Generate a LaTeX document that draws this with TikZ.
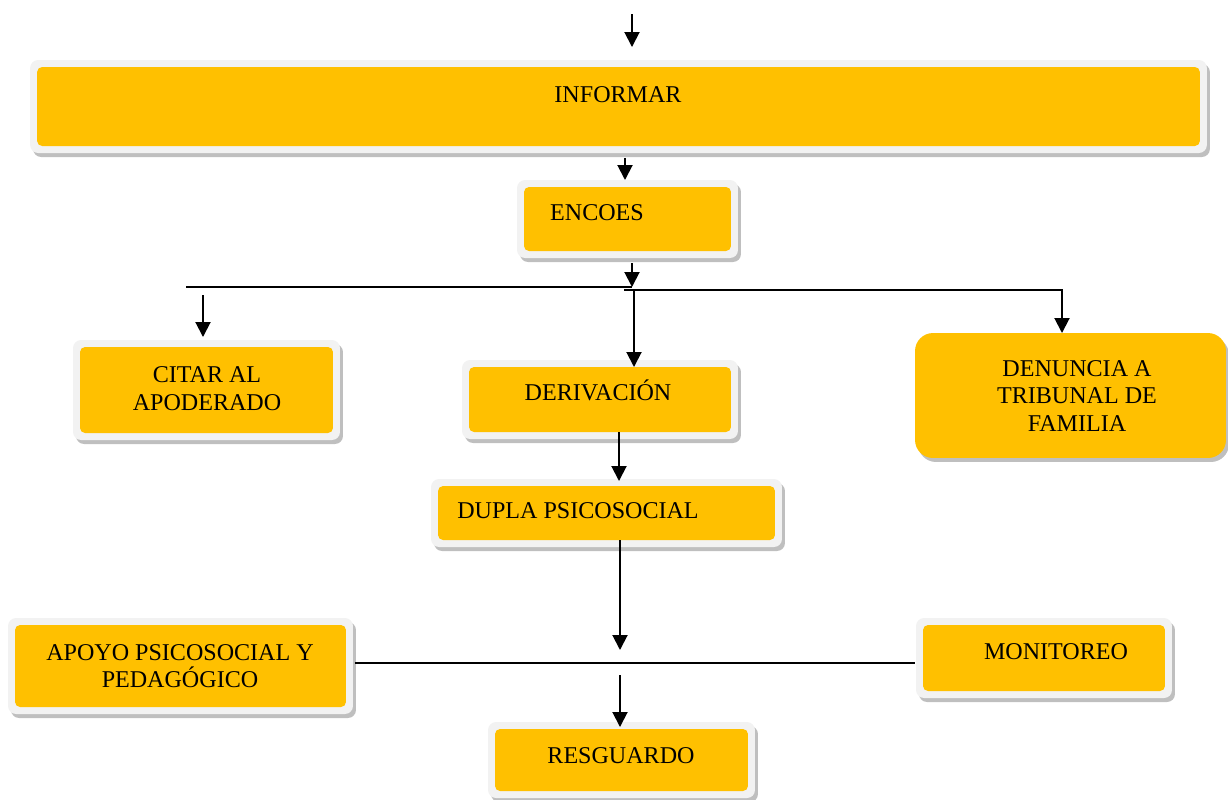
\documentclass[tikz,border=0pt]{standalone}
\usepackage{fontspec}
\setmainfont{Liberation Serif}
\usetikzlibrary{arrows.meta,backgrounds}
\definecolor{boxorange}{HTML}{FFC000}
\definecolor{framegray}{HTML}{F2F2F2}
\definecolor{shadegray}{HTML}{BFBFBF}

\begin{document}
\begin{tikzpicture}[x=0.02cm, y=-0.02cm,
  box/.style={fill=boxorange, rounded corners=0.1cm, inner sep=0pt, outer sep=0pt},
  caption/.style={font=\fontsize{13.7pt}{15.6pt}\selectfont, inner sep=0pt, text height=9pt, text depth=0pt},
  multi/.style={font=\fontsize{13.7pt}{15.6pt}\selectfont, inner sep=0pt, align=center},
  flow/.style={line width=1.1pt, -{Triangle[length=0.3cm, width=0.3cm]}},
  wire/.style={line width=1.1pt}]
\useasboundingbox (0,0) rectangle (1228,799);

% boxes
\node[box, minimum width=23.26cm, minimum height=1.58cm] (informar) at (618.5,106.5) {};
\node[box, minimum width=4.14cm, minimum height=1.28cm] (encoes) at (627.5,219) {};
\node[box, minimum width=5.06cm, minimum height=1.72cm] (citar) at (206.5,390) {};
\node[box, minimum width=5.24cm, minimum height=1.30cm] (derivacion) at (600,399.5) {};
\node[box, rounded corners=0.36cm, minimum width=6.22cm, minimum height=2.5cm] (denuncia) at (1070.5,395.5) {};
\node[box, minimum width=6.74cm, minimum height=1.08cm] (dupla) at (606.5,513) {};
\node[box, minimum width=6.62cm, minimum height=1.64cm] (apoyo) at (180.5,666) {};
\node[box, minimum width=4.84cm, minimum height=1.32cm] (monitoreo) at (1044,658) {};
\node[box, minimum width=5.06cm, minimum height=1.24cm] (resguardo) at (621.5,760) {};

% texts
\node[caption] (informar-t) at (618,95) {INFORMAR};
\node[caption] (encoes-t) at (597,213) {ENCOES};
\node[multi] (citar-t) at (207,388.5) {CITAR AL\\APODERADO};
\node[caption] (derivacion-t) at (598,393) {DERIVACIÓN};
\node[multi] (denuncia-t) at (1077,396) {DENUNCIA A\\TRIBUNAL DE\\FAMILIA};
\node[caption] (dupla-t) at (578,511) {DUPLA PSICOSOCIAL};
\node[multi] (apoyo-t) at (180,666) {APOYO PSICOSOCIAL Y\\PEDAGÓGICO};
\node[caption] (monitoreo-t) at (1056,652) {MONITOREO};
\node[caption] (resguardo-t) at (621,756) {RESGUARDO};

% connectors
\coordinate (entry) at (632,14);
\draw[flow, shorten >=0.4cm] (entry) -- (entry |- informar.north);
\coordinate (x1) at (625,0);
\draw[flow, shorten <=0.24cm, shorten >=0.14cm] (x1 |- informar.south) -- (x1 |- encoes.north);
\coordinate (split) at (632,287);
\draw[flow, shorten <=0.24cm] (split |- encoes.south) -- (split);
\coordinate (leftend) at (186,287);
\draw[wire] (leftend) -- (split);
\coordinate (fork) at (624,290);
\coordinate (bend) at (1062,290);
\draw[flow] (fork) -- (bend) -- (bend |- denuncia.north);
\coordinate (citar-in) at (203,295);
\draw[flow, shorten >=0.2cm] (citar-in) -- (citar-in |- citar.north);
\coordinate (down) at (634,290);
\draw[flow] (down) -- (down |- derivacion.north);
\coordinate (x2) at (619,0);
\draw[flow, shorten >=0.1cm] (x2 |- derivacion.south) -- (x2 |- dupla.north);
\coordinate (cross) at (620,663);
\draw[flow, shorten >=0.26cm] (cross |- dupla.south) -- (cross);
\draw[wire, shorten <=0.18cm, shorten >=0.16cm] (cross -| apoyo.east) -- (cross -| monitoreo.west);
\draw[flow, shorten <=0.24cm, shorten >=0.04cm] (cross) -- (cross |- resguardo.north);

% frames and shadows
\begin{scope}[on background layer]
\foreach \n in {informar,encoes,citar,derivacion,dupla,apoyo,monitoreo,resguardo}{
  \fill[shadegray, rounded corners=0.16cm] ([shift={(-4,-3)}]\n.north west) rectangle ([shift={(10,11)}]\n.south east);
  \fill[framegray, rounded corners=0.16cm] ([shift={(-7,-7)}]\n.north west) rectangle ([shift={(7,7)}]\n.south east);
}
\fill[shadegray, rounded corners=0.36cm] ([shift={(3,4)}]denuncia.north west) rectangle ([shift={(3,4)}]denuncia.south east);
\end{scope}
\end{tikzpicture}
\end{document}
